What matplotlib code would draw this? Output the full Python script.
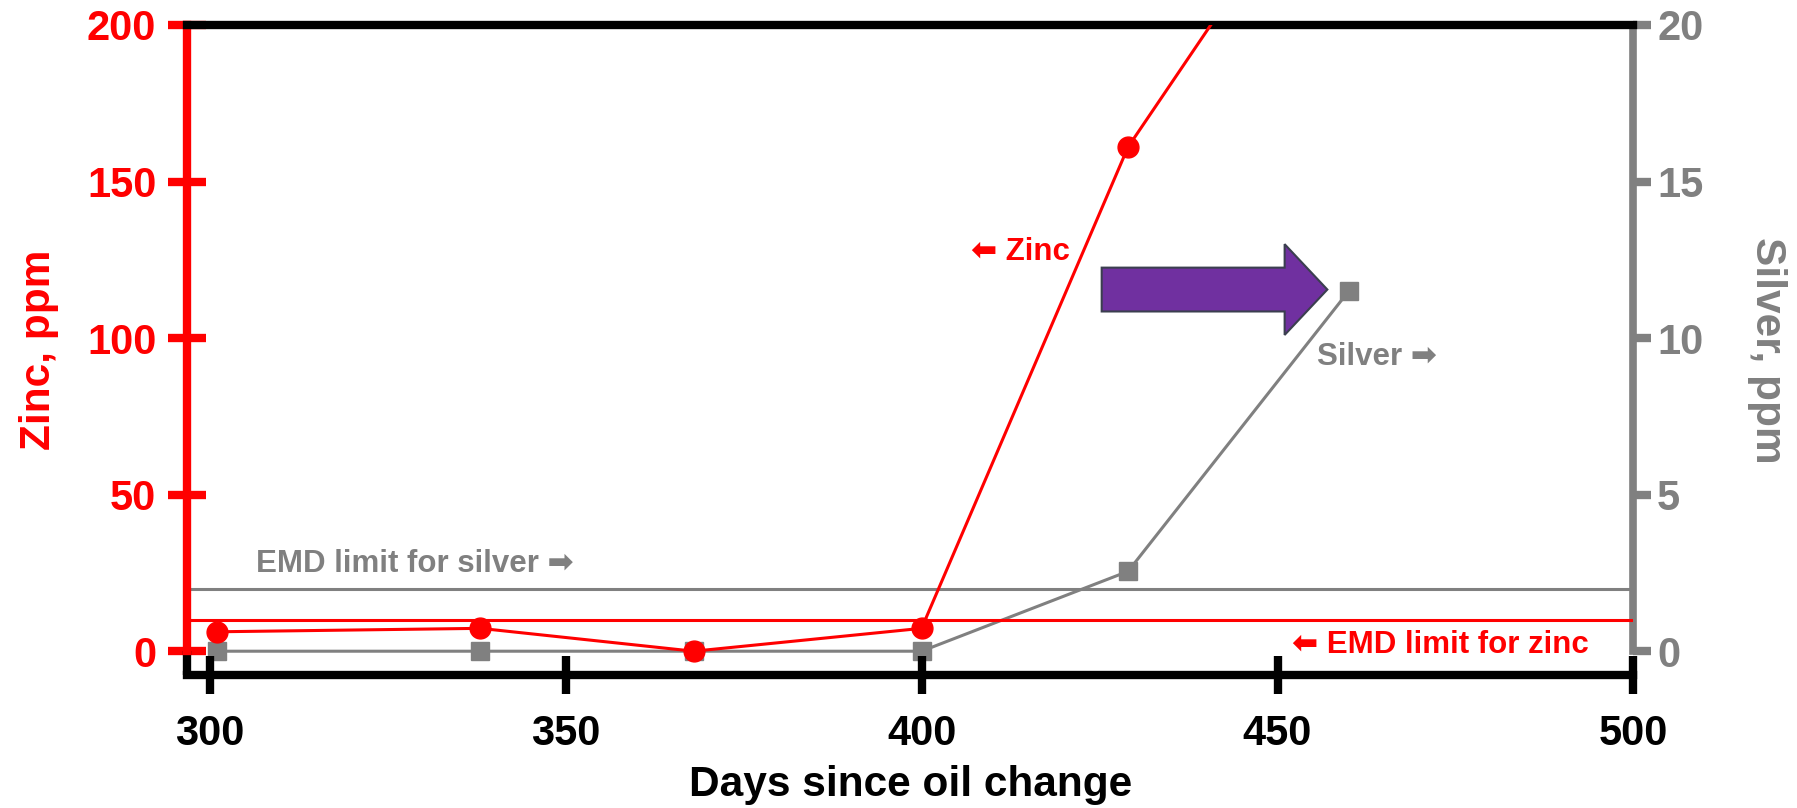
import matplotlib

matplotlib.use("Agg")
import matplotlib.pyplot as plt
from matplotlib.patches import FancyArrow

plt.rcParams["font.family"] = ["Liberation Sans", "DejaVu Sans"]
plt.rcParams["font.weight"] = "bold"

# data
zinc_days = [301, 338, 368, 400, 429, 460]
zinc_ppm = [6.2, 7.3, 0.0, 7.3, 161, 265]
silver_days = [301, 338, 368, 400, 429, 460]
silver_ppm = [0.0, 0.0, 0.0, 0.0, 2.55, 11.5]
zinc_limit = 10
silver_limit = 2.0
x_ticks = [300, 350, 400, 450, 500]
zinc_ticks = [0, 50, 100, 150, 200]
silver_ticks = [0, 5, 10, 15, 20]

RED = "#ff0000"
GREY = "#808080"
PURPLE = "#7030a0"

fig = plt.figure(figsize=(17.97, 8.08), dpi=100)
ax = fig.add_axes([0.104, 0.1646, 0.805, 0.8045])
ax2 = ax.twinx()

ax.set_xlim(296.8, 500)
ax.set_ylim(-7.6, 200)
ax2.set_ylim(-0.76, 20)

# limit lines
ax.axhline(zinc_limit, color=RED, linewidth=2.2, zorder=2)
ax2.axhline(silver_limit, color=GREY, linewidth=2.2, zorder=2)

ax2.plot(silver_days, silver_ppm, color=GREY, linewidth=2.2, marker="s",
         markersize=13.5, zorder=3)
ax.plot(zinc_days, zinc_ppm, color=RED, linewidth=2.2, marker="o",
        markersize=15, zorder=3)
ax.set_zorder(ax2.get_zorder() + 1)
ax.patch.set_visible(False)

# spines
for s in ["top", "bottom"]:
    ax.spines[s].set_color("black")
    ax.spines[s].set_linewidth(6)
ax.spines["left"].set_color(RED)
ax.spines["left"].set_linewidth(6)
ax.spines["left"].set_bounds(0, 200)
ax.spines["right"].set_visible(False)
ax2.spines["right"].set_color(GREY)
ax2.spines["right"].set_linewidth(5.5)
ax2.spines["right"].set_bounds(0, 20)
for s in ["left", "top", "bottom"]:
    ax2.spines[s].set_visible(False)
ax.plot([0, 0], [0, 7.6 / 207.6], transform=ax.transAxes, color="black",
        linewidth=6, clip_on=False, solid_capstyle="butt")

ax.set_xticks(x_ticks)
ax.set_yticks(zinc_ticks)
ax2.set_yticks(silver_ticks)
ax.tick_params(axis="x", direction="inout", length=28, width=6, colors="black",
               labelsize=30, pad=14)
ax.tick_params(axis="y", direction="inout", length=28, width=6, colors=RED,
               labelsize=30, pad=8)
ax2.tick_params(axis="y", direction="out", length=13, width=6, colors=GREY,
                labelsize=30, pad=4)
for lab in ax.get_xticklabels() + ax.get_yticklabels() + ax2.get_yticklabels():
    lab.set_fontweight("bold")

ax.set_xlabel("Days since oil change", fontsize=30.5, fontweight="bold", labelpad=8)
ax.set_ylabel("Zinc, ppm", fontsize=30.5, fontweight="bold", color=RED, labelpad=20)
ax2.set_ylabel("Silver, ppm", fontsize=30.5, fontweight="bold", color=GREY,
               rotation=270, labelpad=60)

# annotations
ax.text(306.5, 28, "EMD limit for silver \u27a1", color=GREY, fontsize=22.5,
        fontweight="bold", ha="left", va="center")
ax.text(452, 2, "\u2b05 EMD limit for zinc", color=RED, fontsize=22.5,
        fontweight="bold", ha="left", va="center")
ax.text(407, 127.5, "\u2b05 Zinc", color=RED, fontsize=22.5,
        fontweight="bold", ha="left", va="center")
ax.text(455.5, 94, "Silver \u27a1", color=GREY, fontsize=22.5,
        fontweight="bold", ha="left", va="center")

ax.add_patch(FancyArrow(425.3, 115.5, 31.7, 0, width=14, head_width=29,
                        head_length=6, length_includes_head=True,
                        facecolor=PURPLE, edgecolor="#3b3f4f", linewidth=1.5,
                        zorder=4))

fig.savefig("out.png", dpi=100)
